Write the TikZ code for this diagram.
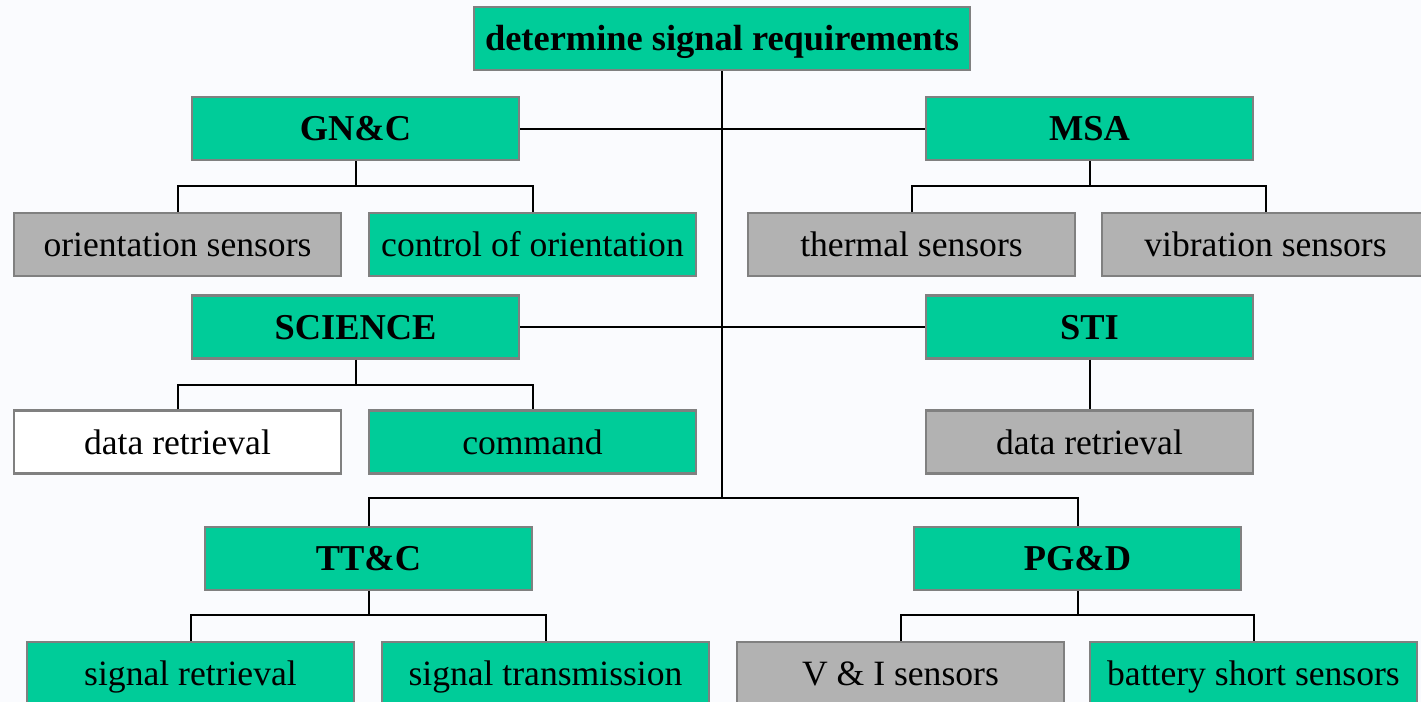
\documentclass[tikz,border=0pt]{standalone}
\usepackage{fontspec}
\setmainfont{Liberation Serif}
\usepackage{xcolor}
\usepackage{tikz}
\usetikzlibrary{positioning}
\definecolor{boxgreen}{HTML}{00CC99}
\definecolor{boxgray}{HTML}{B2B2B2}
\definecolor{edgegray}{HTML}{808080}
\definecolor{pagetint}{HTML}{FAFBFE}
\tikzset{
  basebox/.style={draw=edgegray,line width=1.2pt,minimum width=163.5pt,minimum height=31.5pt,inner sep=0pt,text height=15pt,text depth=3pt,font=\fontsize{17.8}{20}\selectfont,text=black},
  greenbox/.style={basebox,fill=boxgreen},
  graybox/.style={basebox,fill=boxgray},
  whitebox/.style={basebox,fill=white},
  headbox/.style={greenbox,font=\fontsize{18.2}{20}\selectfont\bfseries},
  linkline/.style={draw=black,line width=1pt},
}

\begin{document}
\begin{tikzpicture}[x=0.5pt,y=-0.5pt]
        \fill[pagetint] (0,0) rectangle (1421,702);
        \useasboundingbox (0,0) rectangle (1421,702);
        \clip (0,0) rectangle (1421,702);
        % top and the two upper pairs
        \node[headbox,minimum width=248pt] (top) at (722,38.5) {determine signal requirements};
        \node[headbox] (gnc) at (355.5,128.5) {GN\&C};
        \node[headbox] (msa) at (1089.5,128.5) {MSA};
        \node[graybox] (orient) at (177.5,244.5) {orientation sensors};
        \node[greenbox] (ctrl) at (532.5,244.5) {control of orientation};
        \node[graybox] (thermal) at (911.5,244.5) {thermal sensors};
        \node[graybox] (vib) at (1265.5,244.5) {vibration sensors};
        \node[headbox] (sci) at (355.5,327) {SCIENCE};
        \node[headbox] (sti) at (1089.5,327) {STI};
        \node[whitebox] (dret) at (177.5,442) {data retrieval};
        \node[greenbox] (cmd) at (532.5,442) {command};
        \node[graybox] (stiret) at (1089.5,442) {data retrieval};
        % lower pair
        \node[headbox] (ttc) at (368.5,558.5) {TT\&C};
        \node[headbox] (pgd) at (1077.5,558.5) {PG\&D};
        \node[greenbox] (sigret) at (190.5,673.5) {signal retrieval};
        \node[greenbox] (sigtx) at (545.5,673.5) {signal transmission};
        \node[graybox] (vi) at (900.5,673.5) {V \& I sensors};
        \node[greenbox] (batt) at (1253.5,673.5) {battery short sensors};
        % bus points
        \coordinate (spine) at (722,498);
        \coordinate (gncbus) at (355.5,186);
        \coordinate (msabus) at (1089.5,186);
        \coordinate (scibus) at (355.5,385);
        \coordinate (ttcbus) at (368.5,615);
        \coordinate (pgdbus) at (1077.5,615);
        \draw[linkline] (top.south) -- (spine);
        \draw[linkline] (gnc.east) -- (msa.west); \draw[linkline] (sci.east) -- (sti.west);
        \draw[linkline] (ttc.north) |- (spine) -| (pgd.north);
        \draw[linkline] (gnc.south) -- (gncbus); \draw[linkline] (orient.north) |- (gncbus) -| (ctrl.north);
        \draw[linkline] (msa.south) -- (msabus); \draw[linkline] (thermal.north) |- (msabus) -| (vib.north);
        \draw[linkline] (sci.south) -- (scibus); \draw[linkline] (dret.north) |- (scibus) -| (cmd.north);
        \draw[linkline] (sti.south) -- (stiret.north);
        \draw[linkline] (ttc.south) -- (ttcbus); \draw[linkline] (sigret.north) |- (ttcbus) -| (sigtx.north);
        \draw[linkline] (pgd.south) -- (pgdbus); \draw[linkline] (vi.north) |- (pgdbus) -| (batt.north);
      \end{tikzpicture}
\end{document}
